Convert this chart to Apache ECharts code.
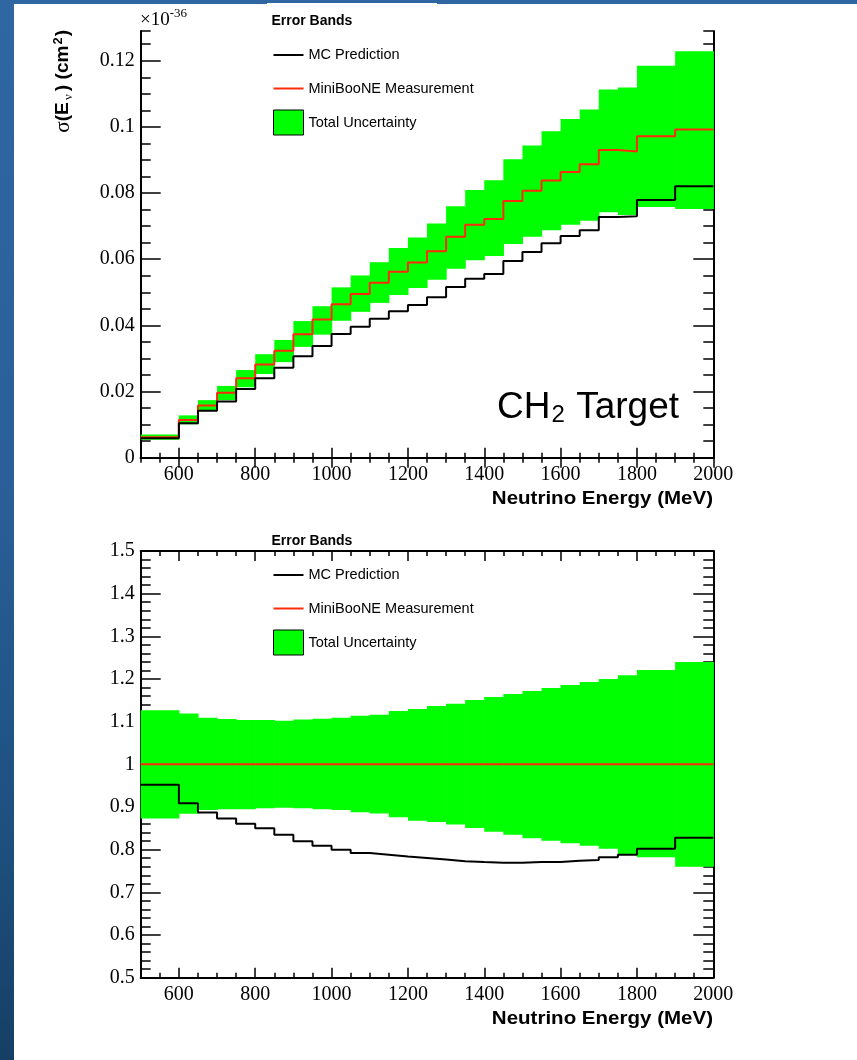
<!DOCTYPE html>
<html>
<head>
<meta charset="utf-8">
<script src="https://cdn.jsdelivr.net/npm/echarts@6/dist/echarts.min.js"></script>
<style>
  html, body { margin: 0; padding: 0; width: 857px; height: 1060px; overflow: hidden; }
  body { background: linear-gradient(180deg, #2f67a3 0%, #2a5f99 45%, #1d4f7e 80%, #163f64 100%); }
  #sheet { position: absolute; left: 14px; top: 4px; right: 0; bottom: 0; background: #fff; }
  #legendPatch { position: absolute; left: 267px; top: 3px; width: 170px; height: 2px; background: #fff; }
  #chart { position: absolute; left: 0; top: 0; width: 857px; height: 1060px; }
</style>
</head>
<body>
<div id="sheet"></div>
<div id="legendPatch"></div>
<div id="chart"></div>
<script>
// Energy bin edges (MeV)
const binEdges = [500, 600, 650, 700, 750, 800, 850, 900, 950, 1000, 1050, 1100, 1150, 1200,
  1250, 1300, 1350, 1400, 1450, 1500, 1550, 1600, 1650, 1700, 1750, 1800, 1900, 2000];

// Cross section per bin, units of 1e-36 cm^2
const mcXsec = [0.0059, 0.0104, 0.0142, 0.0170, 0.0208, 0.0240, 0.0272, 0.0307, 0.0338, 0.0374,
  0.0396, 0.0420, 0.0443, 0.0462, 0.0485, 0.0516, 0.0541, 0.0555, 0.0595, 0.0622, 0.0648,
  0.0670, 0.0688, 0.0728, 0.0730, 0.0779, 0.0821];
const dataXsec = [0.0062, 0.0114, 0.0158, 0.0196, 0.0240, 0.0282, 0.0323, 0.0373, 0.0418, 0.0464,
  0.0495, 0.0529, 0.0562, 0.0590, 0.0624, 0.0668, 0.0704, 0.0722, 0.0776, 0.0807, 0.0838,
  0.0864, 0.0887, 0.0930, 0.0926, 0.0972, 0.0992];
const bandLowXsec = [0.0054, 0.0101, 0.0141, 0.0174, 0.0213, 0.0253, 0.0289, 0.0335, 0.0372, 0.0414,
  0.0441, 0.0468, 0.0492, 0.0513, 0.0538, 0.0571, 0.0597, 0.0610, 0.0646, 0.0668, 0.0688,
  0.0704, 0.0716, 0.0742, 0.0734, 0.0758, 0.0752];
const bandHighXsec = [0.0070, 0.0128, 0.0174, 0.0217, 0.0265, 0.0313, 0.0356, 0.0413, 0.0458, 0.0515,
  0.0551, 0.0591, 0.0634, 0.0666, 0.0708, 0.0760, 0.0809, 0.0839, 0.0902, 0.0944, 0.0987,
  0.1024, 0.1053, 0.1113, 0.1119, 0.1185, 0.1229];

// Same quantities relative to the measurement
const mcRatio = [0.952, 0.909, 0.887, 0.873, 0.861, 0.850, 0.835, 0.820, 0.809, 0.800, 0.792,
  0.788, 0.784, 0.7805, 0.777, 0.773, 0.771, 0.7695, 0.7695, 0.771, 0.771, 0.774, 0.776,
  0.782, 0.788, 0.802, 0.828];
const dataRatio = [1, 1, 1, 1, 1, 1, 1, 1, 1, 1, 1, 1, 1, 1, 1, 1, 1, 1, 1, 1, 1, 1, 1, 1, 1, 1, 1];
const bandLowRatio = [0.873, 0.884, 0.893, 0.895, 0.895, 0.897, 0.898, 0.897, 0.895, 0.893, 0.888,
  0.885, 0.876, 0.868, 0.865, 0.859, 0.851, 0.842, 0.835, 0.827, 0.821, 0.815, 0.809,
  0.802, 0.790, 0.782, 0.760];
const bandHighRatio = [1.127, 1.119, 1.109, 1.106, 1.104, 1.104, 1.102, 1.105, 1.107, 1.109, 1.114,
  1.116, 1.125, 1.130, 1.137, 1.142, 1.151, 1.158, 1.165, 1.172, 1.179, 1.186, 1.193,
  1.200, 1.209, 1.221, 1.240];

// Tick labels
const energyTicks = [600, 800, 1000, 1200, 1400, 1600, 1800, 2000];
const xsecTicks = [0, 0.02, 0.04, 0.06, 0.08, 0.1, 0.12];
const ratioTicks = [0.5, 0.6, 0.7, 0.8, 0.9, 1, 1.1, 1.2, 1.3, 1.4, 1.5];

const legendNames = ['MC Prediction', 'MiniBooNE Measurement', 'Total Uncertainty'];

const SERIF = 'Liberation Serif';
const SANS = 'Liberation Sans';
const GREEN = '#00ff00';
const RED = '#ff2a0a';
const BLACK = '#000000';

const GRID_LEFT = 140.7, GRID_W = 572.6, GRID_H = 426.7;
const GRID_TOPS = [31, 551];

// Legend swatch for a histogram outline: a 2px bar centred in a 30x25 box
// (the bare move-tos keep the full box so rows stay evenly spaced)
const LINE_ICON = 'path://M0,0 M0,11.5 L30,11.5 L30,13.5 L0,13.5 Z M30,25';

const chart = echarts.init(document.getElementById('chart'), null, { renderer: 'canvas', width: 857, height: 1060 });

const xAxes = [], yAxes = [];
function addFrameAxes(g, yMin, yMax, yTicks, yMinorStep) {
  const frameLine = { show: true, lineStyle: { color: BLACK, width: 2 } };
  const tickStyle = { color: BLACK, width: 1.5 };
  const base = { gridIndex: g, type: 'value', splitLine: { show: false }, silent: true };
  const xBase = Object.assign({}, base, { min: binEdges[0], max: binEdges[binEdges.length - 1] });
  const yBase = Object.assign({}, base, { min: yMin, max: yMax });
  // bottom: labelled major ticks, then minor ticks
  xAxes.push(Object.assign({}, xBase, {
    position: 'bottom', axisLine: frameLine,
    axisTick: { show: true, inside: true, length: 10, customValues: energyTicks, lineStyle: tickStyle },
    axisLabel: { show: true, customValues: energyTicks, margin: 7, color: BLACK, fontFamily: SERIF, fontSize: 20,
      formatter: v => String(v) }
  }));
  xAxes.push(Object.assign({}, xBase, {
    position: 'bottom', interval: 50, axisLine: { show: false },
    axisTick: { show: true, inside: true, length: 5, lineStyle: tickStyle }, axisLabel: { show: false }
  }));
  // top frame edge
  xAxes.push(Object.assign({}, xBase, {
    position: 'top', axisLine: frameLine,
    axisTick: { show: true, inside: true, length: 10, customValues: energyTicks, lineStyle: tickStyle },
    axisLabel: { show: false }
  }));
  xAxes.push(Object.assign({}, xBase, {
    position: 'top', interval: 50, axisLine: { show: false },
    axisTick: { show: true, inside: true, length: 5, lineStyle: tickStyle }, axisLabel: { show: false }
  }));
  // left: labelled major ticks, then minor ticks
  yAxes.push(Object.assign({}, yBase, {
    position: 'left', axisLine: frameLine,
    axisTick: { show: true, inside: true, length: 20, customValues: yTicks, lineStyle: tickStyle },
    axisLabel: { show: true, customValues: yTicks, margin: 6, color: BLACK, fontFamily: SERIF, fontSize: 20,
      formatter: v => String(v) }
  }));
  yAxes.push(Object.assign({}, yBase, {
    position: 'left', interval: yMinorStep, axisLine: { show: false },
    axisTick: { show: true, inside: true, length: 10, lineStyle: tickStyle }, axisLabel: { show: false }
  }));
  // right frame edge
  yAxes.push(Object.assign({}, yBase, {
    position: 'right', axisLine: frameLine,
    axisTick: { show: true, inside: true, length: 20, customValues: yTicks, lineStyle: tickStyle },
    axisLabel: { show: false }
  }));
  yAxes.push(Object.assign({}, yBase, {
    position: 'right', interval: yMinorStep, axisLine: { show: false },
    axisTick: { show: true, inside: true, length: 10, lineStyle: tickStyle }, axisLabel: { show: false }
  }));
}
addFrameAxes(0, 0, 0.129, xsecTicks, 0.005);
addFrameAxes(1, 0.5, 1.5, ratioTicks, 0.02);

// Histogram outline: one point per bin edge, last bin repeated to close the step
function stepPoints(vals) {
  return binEdges.map((e, i) => [e, vals[Math.min(i, vals.length - 1)]]);
}
function bandItems(lo, hi) {
  return lo.map((l, i) => [binEdges[i], binEdges[i + 1], l, hi[i]]);
}

function panelSeries(g, mc, meas, lo, hi) {
  const ax = g * 4;
  return [
    {
      type: 'custom', name: legendNames[2], xAxisIndex: ax, yAxisIndex: ax, z: 1,
      data: bandItems(lo, hi), encode: { x: [0, 1], y: [2, 3] },
      itemStyle: { color: GREEN },
      renderItem: (params, api) => {
        const a = api.coord([api.value(0), api.value(3)]);
        const b = api.coord([api.value(1), api.value(2)]);
        return {
          type: 'rect',
          shape: { x: a[0], y: a[1], width: b[0] - a[0] + 0.6, height: b[1] - a[1] },
          style: { fill: GREEN }
        };
      }
    },
    {
      type: 'line', name: legendNames[1], xAxisIndex: ax, yAxisIndex: ax, z: 3,
      data: stepPoints(meas), step: 'end', symbol: 'none',
      lineStyle: { color: RED, width: 2 }, itemStyle: { color: RED }
    },
    {
      type: 'line', name: legendNames[0], xAxisIndex: ax, yAxisIndex: ax, z: 4,
      data: stepPoints(mc), step: 'end', symbol: 'none',
      lineStyle: { color: BLACK, width: 2 }, itemStyle: { color: BLACK }
    }
  ];
}

function legendFor(top) {
  return {
    left: 273, top: top, orient: 'vertical', padding: 0,
    itemWidth: 30, itemHeight: 25, itemGap: 8.5, selectedMode: false,
    textStyle: { fontFamily: SANS, fontSize: 14.5, color: BLACK },
    data: [
      { name: legendNames[0], icon: LINE_ICON, itemStyle: { color: BLACK, borderWidth: 0 } },
      { name: legendNames[1], icon: LINE_ICON, itemStyle: { color: RED, borderWidth: 0 } },
      { name: legendNames[2], icon: 'rect', itemStyle: { color: GREEN, borderColor: BLACK, borderWidth: 1 } }
    ]
  };
}

function headerFor(top) {
  return {
    text: 'Error Bands', left: 271.5, top: top, padding: 0,
    textStyle: { fontFamily: SANS, fontWeight: 'bold', fontSize: 14, color: BLACK }
  };
}

function energyTitle(y) {
  return {
    type: 'text', x: 713, y: y, z: 10, scaleX: 1.14,
    style: { text: 'Neutrino Energy (MeV)', fill: BLACK, font: 'bold 18px "Liberation Sans"', align: 'right', verticalAlign: 'middle' }
  };
}

chart.setOption({
  animation: false,
  backgroundColor: 'transparent',
  grid: GRID_TOPS.map(t => ({ left: GRID_LEFT, top: t, width: GRID_W, height: GRID_H, containLabel: false })),
  xAxis: xAxes,
  yAxis: yAxes,
  title: [headerFor(14), headerFor(534)],
  legend: [legendFor(42.5), legendFor(562.5)],
  series: [].concat(
    panelSeries(0, mcXsec, dataXsec, bandLowXsec, bandHighXsec),
    panelSeries(1, mcRatio, dataRatio, bandLowRatio, bandHighRatio)
  ),
  graphic: [
    energyTitle(499.5),
    energyTitle(1019.5),
    {
      type: 'text', x: 63.5, y: 30, rotation: Math.PI / 2, z: 10, scaleX: 1.06,
      style: {
        text: '{g|σ}{b|(E}{sub|ν}{b|) (cm}{sup|2}{b|)}',
        align: 'right', verticalAlign: 'middle', fill: BLACK,
        rich: {
          g: { fontFamily: SERIF, fontSize: 20, lineHeight: 22 },
          b: { fontFamily: SANS, fontWeight: 'bold', fontSize: 18, lineHeight: 22 },
          sub: { fontFamily: SERIF, fontSize: 12, lineHeight: 12, verticalAlign: 'bottom', padding: [0, 3, 0, 2] },
          sup: { fontFamily: SANS, fontWeight: 'bold', fontSize: 12, lineHeight: 12, verticalAlign: 'top', padding: [0, 1, 0, 1] }
        }
      }
    },
    {
      type: 'text', x: 140, y: 20, z: 10,
      style: {
        text: '{a|×10}{s|-36}', align: 'left', verticalAlign: 'middle', fill: BLACK,
        rich: {
          a: { fontFamily: SERIF, fontSize: 19, lineHeight: 26 },
          s: { fontFamily: SERIF, fontSize: 13, lineHeight: 13, verticalAlign: 'top' }
        }
      }
    },
    {
      type: 'text', x: 679, y: 408, z: 10,
      style: {
        text: '{a|CH}{s|2}{a| Target}', align: 'right', verticalAlign: 'middle', fill: BLACK,
        rich: {
          a: { fontFamily: SANS, fontSize: 37, lineHeight: 38 },
          s: { fontFamily: SANS, fontSize: 24, lineHeight: 24, verticalAlign: 'bottom', padding: [0, 1, 0, 1] }
        }
      }
    }
  ]
});
</script>
</body>
</html>
